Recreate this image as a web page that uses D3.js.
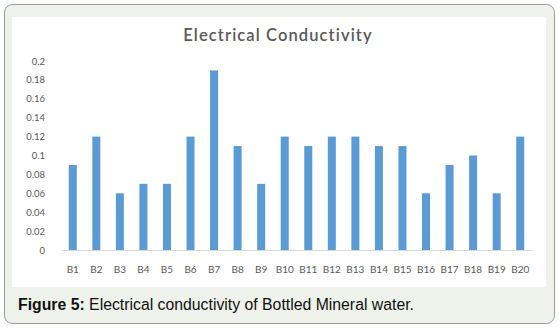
<!DOCTYPE html>
<html><head><meta charset="utf-8">
<script src="https://cdn.jsdelivr.net/npm/d3@7"></script>
<style>html,body{margin:0;padding:0;background:#fff;}</style>
</head><body>
<svg id="c" width="559" height="328"></svg>
<script>
const categories = ["B1","B2","B3","B4","B5","B6","B7","B8","B9","B10","B11","B12","B13","B14","B15","B16","B17","B18","B19","B20"];
const values = [0.09,0.12,0.06,0.07,0.07,0.12,0.19,0.11,0.07,0.12,0.11,0.12,0.12,0.11,0.11,0.06,0.09,0.10,0.06,0.12];
const yTicks = [0,0.02,0.04,0.06,0.08,0.1,0.12,0.14,0.16,0.18,0.2];
const title = "Electrical Conductivity";

const svg = d3.select("#c");
svg.append("rect").attr("x",4.5).attr("y",4.5).attr("width",550).attr("height",319)
  .attr("rx",8).attr("fill","#eef2ea").attr("stroke","#9a9a9a").attr("stroke-width",1);
svg.append("rect").attr("x",12).attr("y",17).attr("width",534).attr("height",270).attr("fill","#fff");

const x = d3.scaleBand().domain(categories).range([61,532]).paddingInner(0.66).paddingOuter(0.33);
const y = d3.scaleLinear().domain([0,0.2]).range([250,61]);

svg.append("text").attr("x",278).attr("y",41).attr("text-anchor","middle")
  .attr("font-family","Lato, 'Open Sans', sans-serif").attr("font-size",16.5).attr("font-weight",600)
  .attr("letter-spacing",1.1).attr("fill","#595959").text(title);

const ya = svg.append("g").attr("transform","translate(61,0)")
  .call(d3.axisLeft(y).tickValues(yTicks).tickSize(0).tickPadding(16).tickFormat(d=>String(d)));
ya.select(".domain").remove();
ya.selectAll("text").attr("font-family","Lato, 'Open Sans', sans-serif").attr("font-size",9.5).attr("fill","#595959");

svg.selectAll("rect.bar").data(values).join("rect").attr("class","bar")
  .attr("x",(d,i)=>x(categories[i])).attr("width",x.bandwidth())
  .attr("y",d=>y(d)).attr("height",d=>y(0)-y(d)).attr("fill","#5b9bd5");

const xa = svg.append("g").attr("transform","translate(0,250)")
  .call(d3.axisBottom(x).tickSize(0).tickPadding(16));
xa.select(".domain").attr("stroke","#d9d9d9");
xa.selectAll("text").attr("font-family","Lato, 'Open Sans', sans-serif").attr("font-size",10).attr("fill","#595959");

const cap = svg.append("text").attr("x",18).attr("y",310)
  .attr("font-family","'Liberation Sans', Arial, sans-serif").attr("font-size",15.8).attr("fill","#111");
cap.append("tspan").attr("font-weight","bold").text("Figure 5:");
cap.append("tspan").text(" Electrical conductivity of Bottled Mineral water.");
</script>
</body></html>
